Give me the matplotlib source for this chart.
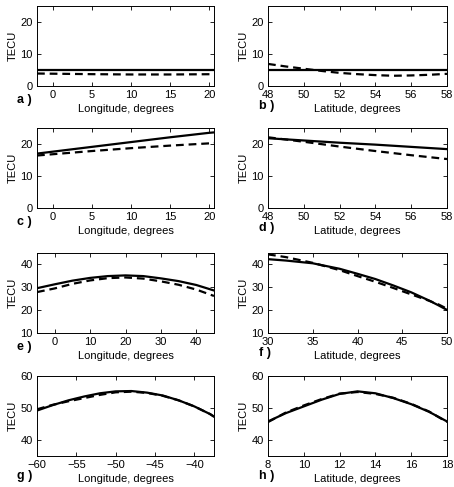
import matplotlib.pyplot as plt

plt.rcParams['font.family'] = ['Liberation Sans', 'DejaVu Sans']
plt.rcParams['font.size'] = 8

# panel a: TECU vs longitude
a_x = [-2, 5, 10, 15, 21]
a_solid = [5.0, 5.0, 5.0, 5.0, 5.0]
a_dash = [3.9, 3.7, 3.6, 3.6, 3.7]

# panel b: TECU vs latitude
b_x = [48, 49, 50, 51, 52, 53, 54, 55, 56, 57, 58]
b_solid = [5.0, 5.0, 5.0, 5.0, 5.0, 5.0, 5.0, 5.0, 5.0, 5.0, 5.0]
b_dash = [6.9, 6.1, 5.4, 4.7, 4.1, 3.7, 3.4, 3.2, 3.3, 3.5, 3.8]

# panel c
c_x = [-2, 0, 5, 10, 15, 20, 21]
c_solid = [17.0, 17.6, 19.1, 20.6, 22.1, 23.5, 23.7]
c_dash = [16.4, 16.8, 17.8, 18.7, 19.5, 20.2, 20.4]

# panel d
d_x = [48, 50, 52, 54, 56, 58]
d_solid = [21.8, 21.1, 20.4, 19.8, 19.1, 18.4]
d_dash = [22.1, 20.7, 19.2, 17.8, 16.5, 15.3]

# panel e
e_x = [-5, 0, 5, 10, 15, 20, 25, 30, 35, 40, 45]
e_solid = [29.6, 31.3, 32.9, 34.1, 34.9, 35.2, 34.9, 33.9, 32.7, 31.0, 28.6]
e_dash = [27.9, 29.5, 31.5, 33.0, 34.0, 34.3, 33.8, 32.6, 31.1, 29.0, 26.2]

# panel f
f_x = [30, 32, 35, 38, 40, 42, 44, 46, 48, 49, 50]
f_solid = [42.3, 41.7, 40.5, 38.1, 35.9, 33.6, 30.8, 27.8, 24.2, 22.2, 20.1]
f_dash = [44.4, 43.2, 40.7, 37.5, 34.9, 32.4, 29.7, 26.9, 24.1, 22.6, 20.6]

# panel g
g_x = [-60, -58, -56, -54, -52, -50, -48, -46, -44, -42, -40, -38, -37.5]
g_solid = [49.2, 50.9, 52.4, 53.6, 54.6, 55.2, 55.3, 54.8, 53.9, 52.4, 50.5, 48.1, 47.3]
g_dash = [49.6, 51.0, 52.1, 53.1, 54.1, 54.9, 55.1, 54.7, 53.8, 52.4, 50.5, 48.1, 47.3]

# panel h
h_x = [8, 9, 10, 11, 12, 13, 14, 15, 16, 17, 18]
h_solid = [45.8, 48.4, 50.5, 52.6, 54.4, 55.2, 54.6, 53.1, 51.2, 48.8, 45.8]
h_dash = [45.6, 48.6, 50.8, 52.8, 54.5, 55.0, 54.4, 53.2, 51.3, 48.9, 45.6]

panels = [
    ('a', a_x, a_solid, a_dash, (-2, 20.6), [0, 5, 10, 15, 20], (0, 25), [0, 10, 20], 'Longitude, degrees'),
    ('b', b_x, b_solid, b_dash, (48, 58), [48, 50, 52, 54, 56, 58], (0, 25), [0, 10, 20], 'Latitude, degrees'),
    ('c', c_x, c_solid, c_dash, (-2, 20.6), [0, 5, 10, 15, 20], (0, 25), [0, 10, 20], 'Longitude, degrees'),
    ('d', d_x, d_solid, d_dash, (48, 58), [48, 50, 52, 54, 56, 58], (0, 25), [0, 10, 20], 'Latitude, degrees'),
    ('e', e_x, e_solid, e_dash, (-5, 45), [0, 10, 20, 30, 40], (10, 45), [10, 20, 30, 40], 'Longitude, degrees'),
    ('f', f_x, f_solid, f_dash, (30, 50), [30, 35, 40, 45, 50], (10, 45), [10, 20, 30, 40], 'Latitude, degrees'),
    ('g', g_x, g_solid, g_dash, (-60, -37.5), [-60, -55, -50, -45, -40], (35, 60), [40, 50, 60], 'Longitude, degrees'),
    ('h', h_x, h_solid, h_dash, (8, 18), [8, 10, 12, 14, 16, 18], (35, 60), [40, 50, 60], 'Latitude, degrees'),
]

W, H = 454, 487
fig = plt.figure(figsize=(W / 100, H / 100), dpi=100)

row_tops = [6, 128, 253, 376]
col_lefts = [37, 268]
col_widths = [177, 179]
ax_h = 80

for i, (tag, x, ys, yd, xlim, xt, ylim, yt, xlab) in enumerate(panels):
    r, c = divmod(i, 2)
    left = col_lefts[c] / W
    bottom = 1 - (row_tops[r] + ax_h) / H
    ax = fig.add_axes([left, bottom, col_widths[c] / W, ax_h / H])
    ax.plot(x, ys, color='k', lw=1.6)
    ax.plot(x, yd, color='k', lw=1.6, dashes=(3.5, 2.2))
    ax.set_xlim(*xlim)
    ax.set_ylim(*ylim)
    ax.set_xticks(xt)
    ax.set_yticks(yt)
    ax.tick_params(direction='in', top=True, right=True, length=3, width=0.6, pad=3)
    for s in ax.spines.values():
        s.set_linewidth(0.7)
    ax.set_xlabel(xlab, labelpad=3)
    ax.set_ylabel('TECU', labelpad=2)
    lx = 17 if c == 0 else 259
    if c == 1 or tag == 'g':
        off = 20
    else:
        off = 14
    ly = row_tops[r] + ax_h + off
    fig.text(lx / W, 1 - ly / H, tag + ' )', fontsize=9, fontweight='bold', va='center', ha='left')

fig.savefig('out.png', dpi=100)
